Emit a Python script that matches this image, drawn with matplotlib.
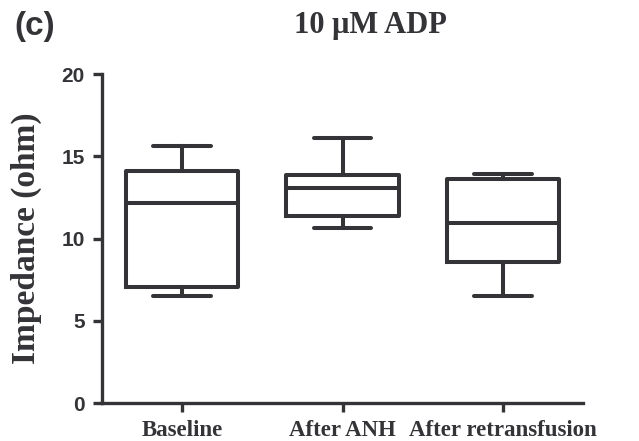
import matplotlib
matplotlib.use('Agg')
import matplotlib.pyplot as plt

# data (ohm)
groups = ['Baseline', 'After ANH', 'After retransfusion']
whislo = [6.5, 10.66, 6.52]
q1 = [7.07, 11.37, 8.59]
med = [12.18, 13.09, 10.96]
q3 = [14.1, 13.86, 13.6]
whishi = [15.64, 16.09, 13.9]

col = '#333338'
lw = 2.9

stats = []
for i, g in enumerate(groups):
    stats.append({'label': g, 'whislo': whislo[i], 'q1': q1[i], 'med': med[i],
                  'q3': q3[i], 'whishi': whishi[i], 'fliers': []})

fig = plt.figure(figsize=(6.39, 4.41), dpi=100)
ax = fig.add_axes([0.16, 0.086, 0.752, 0.746])

ax.bxp(stats, positions=[1, 2, 3], widths=0.70, showfliers=False,
       boxprops=dict(color=col, linewidth=lw),
       whiskerprops=dict(color=col, linewidth=lw),
       capprops=dict(color=col, linewidth=lw, solid_capstyle='round'),
       medianprops=dict(color=col, linewidth=lw),
       capwidths=0.36)

ax.set_xlim(0.5, 3.5)
ax.set_ylim(0, 20)
ax.set_yticks([0, 5, 10, 15, 20])
ax.spines['top'].set_visible(False)
ax.spines['right'].set_visible(False)
for s in ['left', 'bottom']:
    ax.spines[s].set_linewidth(2.4)
    ax.spines[s].set_color(col)
ax.tick_params(axis='both', width=2.4, length=6.5, color=col)
ax.tick_params(axis='y', pad=6)
ax.tick_params(axis='x', pad=6)

for lab in ax.get_yticklabels():
    lab.set_fontfamily('Liberation Sans')
    lab.set_fontweight('bold')
    lab.set_fontsize(15)
    lab.set_color(col)
ax.set_xticklabels(groups, fontfamily='Liberation Serif', fontweight='bold',
                   fontsize=16.5, color=col)
ax.set_ylabel('Impedance (ohm)', fontfamily='Liberation Serif', fontweight='bold',
              fontsize=24, color=col)
ax.yaxis.set_label_coords(-0.125, 0.5)

fig.text(0.58, 0.943, '10 μM ADP', ha='center', va='center',
         fontfamily='Liberation Serif', fontweight='bold', fontsize=22, color=col)
fig.text(0.022, 0.94, '(c)', ha='left', va='center',
         fontfamily='Liberation Sans', fontweight='bold', fontsize=24, color=col)

fig.savefig('out.png', dpi=100)
